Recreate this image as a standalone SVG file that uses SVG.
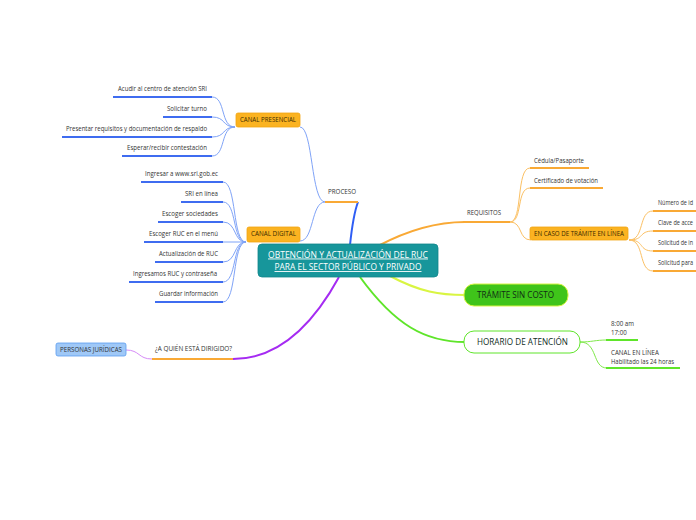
<svg xmlns="http://www.w3.org/2000/svg" width="696" height="520" viewBox="0 0 696 520">
<style>
text{font-family:"Open Sans","Noto Sans","DejaVu Sans",sans-serif;fill:#333}
.s{font-size:6.2px}
.r{text-anchor:end}
.thin{fill:none;stroke-width:1}
.bt{stroke:#7fa3f7}
.ot{stroke:#fbc063}
.gt{stroke:#7fe84a}
.ul{fill:none;stroke-width:2;stroke-linecap:butt}
.bu{stroke:#3f6cf0}
.ou{stroke:#f9a935}
.gu{stroke:#5fe52a}
.box{fill:#fbb321;stroke:#f3a413;stroke-width:0.8}
.bx{font-size:6.2px;fill:#3a2a00}
</style>
<rect width="696" height="520" fill="#ffffff"/>
<g id="connectors">
<path d="M350,245 C352,226 355,210 358,202" fill="none" stroke="#2f5ef5" stroke-width="2"/>
<path d="M378,246 C410,229 438,222 465,222" fill="none" stroke="#f9a935" stroke-width="2"/>
<path d="M390,276 C420,292 440,295 465,295" fill="none" stroke="#d9f542" stroke-width="2"/>
<path d="M360,277 C395,325 425,342 465,342" fill="none" stroke="#5fe52a" stroke-width="2"/>
<path d="M339,277 C310,330 275,359 233,359" fill="none" stroke="#a52bf2" stroke-width="2"/>
<path class="ul ou" d="M325,202 H358"/>
<path class="ul ou" d="M463,222 H510"/>
<path class="ul ou" d="M152,359 H233"/>
<path class="thin bt" d="M325,202 C311,202 313,127 300,127"/>
<path class="thin bt" d="M325,202 C311,202 314,241 300,241"/>
<path class="thin bt" d="M212,97 C226,97 220,127 235,127"/>
<path class="thin bt" d="M212,117 C226,117 222,127 235,127"/>
<path class="thin bt" d="M212,137 C226,137 222,127 235,127"/>
<path class="thin bt" d="M212,156 C226,156 220,127 235,127"/>
<path class="ul bu" d="M113,97 H212"/>
<path class="ul bu" d="M163,117 H212"/>
<path class="ul bu" d="M62,137 H212"/>
<path class="ul bu" d="M122,156 H212"/>
<path class="thin bt" d="M223,182 C237,182 232,242 246,242"/>
<path class="thin bt" d="M223,202 C237,202 232,242 246,242"/>
<path class="thin bt" d="M223,222 C237,222 233,242 246,242"/>
<path class="thin bt" d="M223,242 H246"/>
<path class="thin bt" d="M223,262 C237,262 233,242 246,242"/>
<path class="thin bt" d="M223,282 C237,282 232,242 246,242"/>
<path class="thin bt" d="M223,302 C237,302 232,242 246,242"/>
<path class="ul bu" d="M141,182 H223"/>
<path class="ul bu" d="M181,202 H223"/>
<path class="ul bu" d="M158,222 H223"/>
<path class="ul bu" d="M144,242 H223"/>
<path class="ul bu" d="M155,262 H223"/>
<path class="ul bu" d="M129,282 H223"/>
<path class="ul bu" d="M155,302 H223"/>
<path class="thin ot" d="M510,222 C523,222 516,168 530,168"/>
<path class="thin ot" d="M510,222 C523,222 516,188 530,188"/>
<path class="thin ot" d="M510,222 C523,222 518,240 531,240"/>
<path class="ul ou" d="M530,168 H589" stroke-width="1.5"/>
<path class="ul ou" d="M530,188 H603" stroke-width="1.5"/>
<path class="thin ot" d="M629,240 C645,240 638,211 653,211"/>
<path class="thin ot" d="M629,240 C645,240 638,231 653,231"/>
<path class="thin ot" d="M629,240 C645,240 638,251 653,251"/>
<path class="thin ot" d="M629,240 C645,240 638,271 653,271"/>
<path class="ul ou" d="M653,211 H696" stroke-width="1.5"/>
<path class="ul ou" d="M653,231 H696" stroke-width="1.5"/>
<path class="ul ou" d="M653,251 H696" stroke-width="1.5"/>
<path class="ul ou" d="M653,271 H696" stroke-width="1.5"/>
<path class="thin gt" d="M580,342 C592,342 595,340 607,340"/>
<path class="thin gt" d="M580,342 C598,342 592,368 607,368"/>
<path class="ul gu" d="M606,340 H638"/>
<path class="ul gu" d="M606,368 H680"/>
<path d="M126,350 C140,350 138,359 152,359" fill="none" stroke="#d68cf7" stroke-width="1"/>
</g>
<g id="center">
<rect x="258" y="244" width="180" height="33" rx="4" fill="#17969b" stroke="#12878b" stroke-width="0.8"/>
<text x="348" y="257.5" text-anchor="middle" font-size="9" style="fill:#fff" text-decoration="underline" textLength="160" lengthAdjust="spacingAndGlyphs">OBTENCIÓN Y ACTUALIZACIÓN DEL RUC</text>
<text x="348" y="270" text-anchor="middle" font-size="9" style="fill:#fff" text-decoration="underline" textLength="147" lengthAdjust="spacingAndGlyphs">PARA EL SECTOR PÚBLICO Y PRIVADO</text>
</g>
<g id="proceso"><text class="s" x="328" y="194" textLength="28" lengthAdjust="spacingAndGlyphs">PROCESO</text></g>
<g id="canal-presencial">
<rect class="box" x="236" y="113" width="64" height="14" rx="2"/>
<text class="bx" x="240" y="122" textLength="56" lengthAdjust="spacingAndGlyphs">CANAL PRESENCIAL</text>
</g>
<g id="canal-digital">
<rect class="box" x="247" y="227" width="53" height="15" rx="2"/>
<text class="bx" x="251" y="236" textLength="45" lengthAdjust="spacingAndGlyphs">CANAL DIGITAL</text>
</g>
<g id="presencial-items">
<text class="s r" x="207" y="91" textLength="89" lengthAdjust="spacingAndGlyphs">Acudir al centro de atención SRI</text>
<text class="s r" x="207" y="111" textLength="40" lengthAdjust="spacingAndGlyphs">Solicitar turno</text>
<text class="s r" x="207" y="131" textLength="141" lengthAdjust="spacingAndGlyphs">Presentar requisitos y documentación de respaldo</text>
<text class="s r" x="207" y="150" textLength="80" lengthAdjust="spacingAndGlyphs">Esperar/recibir contestación</text>
</g>
<g id="digital-items">
<text class="s r" x="218" y="176" textLength="73" lengthAdjust="spacingAndGlyphs">Ingresar a www.sri.gob.ec</text>
<text class="s r" x="218" y="196" textLength="33" lengthAdjust="spacingAndGlyphs">SRI en línea</text>
<text class="s r" x="218" y="216" textLength="56" lengthAdjust="spacingAndGlyphs">Escoger sociedades</text>
<text class="s r" x="218" y="236" textLength="69" lengthAdjust="spacingAndGlyphs">Escoger RUC en el menú</text>
<text class="s r" x="218" y="256" textLength="59" lengthAdjust="spacingAndGlyphs">Actualización de RUC</text>
<text class="s r" x="217" y="276" textLength="84" lengthAdjust="spacingAndGlyphs">Ingresamos RUC y contraseña</text>
<text class="s r" x="218" y="296" textLength="59" lengthAdjust="spacingAndGlyphs">Guardar información</text>
</g>
<g id="requisitos"><text class="s" x="467" y="215" textLength="34" lengthAdjust="spacingAndGlyphs">REQUISITOS</text></g>
<g id="requisitos-items">
<text class="s" x="534" y="163" textLength="50" lengthAdjust="spacingAndGlyphs">Cédula/Pasaporte</text>
<text class="s" x="534" y="183" textLength="64" lengthAdjust="spacingAndGlyphs">Certificado de votación</text>
</g>
<g id="en-caso">
<rect class="box" x="530" y="227" width="98" height="13" rx="2"/>
<text class="bx" x="534" y="235.5" textLength="90" lengthAdjust="spacingAndGlyphs">EN CASO DE TRÁMITE EN LÍNEA</text>
</g>
<g id="en-caso-items">
<text class="s" x="658" y="205" textLength="35" lengthAdjust="spacingAndGlyphs">Número de id</text>
<text class="s" x="658" y="225" textLength="35" lengthAdjust="spacingAndGlyphs">Clave de acce</text>
<text class="s" x="658" y="245" textLength="35" lengthAdjust="spacingAndGlyphs">Solicitud de in</text>
<text class="s" x="658" y="265" textLength="35" lengthAdjust="spacingAndGlyphs">Solicitud para</text>
</g>
<g id="tramite">
<rect x="464" y="284" width="104" height="22" rx="10" fill="#3fc41a" stroke="#d9f542" stroke-width="1"/>
<text x="477" y="298" font-size="8.5" style="fill:#0f2d14" textLength="77" lengthAdjust="spacingAndGlyphs">TRÁMITE SIN COSTO</text>
</g>
<g id="horario">
<rect x="464" y="331" width="116" height="22" rx="10" fill="#ffffff" stroke="#5fe52a" stroke-width="1"/>
<text x="477" y="345" font-size="8.5" style="fill:#0f2d24" textLength="91" lengthAdjust="spacingAndGlyphs">HORARIO DE ATENCIÓN</text>
</g>
<g id="horario-items">
<text class="s" x="611" y="326">8:00 am</text>
<text class="s" x="611" y="334.5">17:00</text>
<text class="s" x="611" y="355">CANAL EN LÍNEA</text>
<text class="s" x="611" y="363.5" textLength="63" lengthAdjust="spacingAndGlyphs">Habilitado las 24 horas</text>
</g>
<g id="dirigido"><text class="s" x="155" y="351" textLength="77" lengthAdjust="spacingAndGlyphs">¿A QUIÉN ESTÁ DIRIGIDO?</text></g>
<g id="personas">
<rect x="56" y="343" width="70" height="13" rx="2" fill="#9fc8f7" stroke="#5b9df0" stroke-width="0.8"/>
<text class="s" x="60" y="351.5" textLength="62" lengthAdjust="spacingAndGlyphs">PERSONAS JURÍDICAS</text>
</g>
</svg>
